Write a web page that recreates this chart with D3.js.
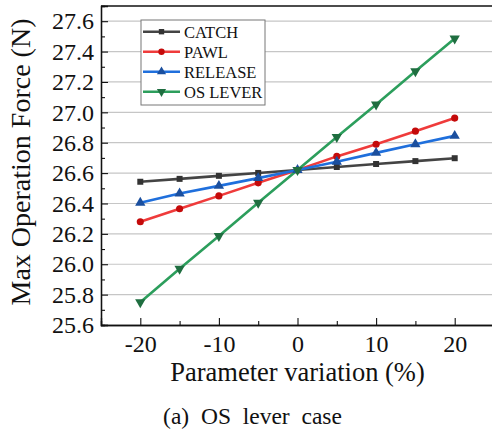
<!DOCTYPE html>
<html>
<head>
<meta charset="utf-8">
<script src="https://cdn.jsdelivr.net/npm/d3@7"></script>
<style>
    body { margin: 0; background: #fff; }
</style>
</head>
<body>
<div id="chart"></div>
<script>
'use strict';

// chart data
const variation = [-20, -15, -10, -5, 0, 5, 10, 15, 20];
const catchForce = [26.543, 26.562, 26.582, 26.601, 26.62, 26.64, 26.66, 26.679, 26.698];
const pawlForce = [26.28, 26.365, 26.45, 26.536, 26.62, 26.71, 26.79, 26.876, 26.962];
const releaseForce = [26.405, 26.466, 26.516, 26.567, 26.62, 26.675, 26.733, 26.79, 26.845];
const osLeverForce = [25.75, 25.97, 26.186, 26.405, 26.62, 26.838, 27.052, 27.27, 27.486];
const seriesNames = ['CATCH', 'PAWL', 'RELEASE', 'OS LEVER'];
const xTicks = [-20, -10, 0, 10, 20];
const yTicks = [25.6, 25.8, 26.0, 26.2, 26.4, 26.6, 26.8, 27.0, 27.2, 27.4, 27.6];

const FONT = 'Liberation Serif';
const W = 492, H = 431;
const margin = {top: 6, right: -2, bottom: 106, left: 101};

const series = [
    {name: seriesNames[0], values: catchForce, line: '#444444', mark: '#333333', shape: d3.symbolSquare, size: 36},
    {name: seriesNames[1], values: pawlForce, line: '#ef3b3b', mark: '#c40a0a', shape: d3.symbolCircle, size: 40},
    {name: seriesNames[2], values: releaseForce, line: '#1f6fdc', mark: '#1b4f9e', shape: d3.symbolTriangle, size: 46},
    {name: seriesNames[3], values: osLeverForce, line: '#2c9e5c', mark: '#1f6e40', shape: d3.symbolTriangle, size: 46, flip: true}
];

const svg = d3.select('#chart')
    .append('svg')
    .attr('width', W)
    .attr('height', H);

const x = d3.scaleLinear().domain([-25, 25]).range([margin.left, W - margin.right]);
const y = d3.scaleLinear().domain([25.6, 27.7]).range([H - margin.bottom, margin.top]);

//gridlines
svg.append('g')
    .selectAll('line')
    .data(yTicks.slice(1))
    .enter()
    .append('line')
    .attr('x1', x(-25))
    .attr('x2', x(25))
    .attr('y1', d => y(d))
    .attr('y2', d => y(d))
    .attr('stroke', '#c6c6c6')
    .attr('stroke-width', 1.2);

//top frame line
svg.append('line')
    .attr('x1', x(-25)).attr('x2', x(25))
    .attr('y1', y(27.7)).attr('y2', y(27.7))
    .attr('stroke', '#111').attr('stroke-width', 1.3);

//axes, ticks point inward
const yMinor = d3.axisLeft(y).tickValues(d3.range(25.7, 27.7, 0.2)).tickSize(-4).tickFormat('');
const yAxis = d3.axisLeft(y).tickValues(yTicks).tickSize(-7).tickPadding(7).tickFormat(d => d.toFixed(1));
const xMinor = d3.axisBottom(x).tickValues([-25, -15, -5, 5, 15, 25]).tickSize(-4).tickFormat('');
const xAxis = d3.axisBottom(x).tickValues(xTicks).tickSize(-7).tickPadding(10).tickFormat(d => String(d));

function styleAxis(g) {
    g.attr('font-family', FONT).attr('font-size', 24);
    g.select('.domain').attr('stroke', '#111').attr('stroke-width', 1.3);
    g.selectAll('.tick line').attr('stroke', '#111').attr('stroke-width', 1.1);
    g.selectAll('text').attr('fill', '#111');
}

svg.append('g').attr('transform', `translate(${margin.left},0)`).call(yMinor).call(styleAxis);
svg.append('g').attr('transform', `translate(${margin.left},0)`).call(yAxis).call(styleAxis);
svg.append('g').attr('transform', `translate(0,${H - margin.bottom})`).call(xMinor).call(styleAxis);
svg.append('g').attr('transform', `translate(0,${H - margin.bottom})`).call(xAxis).call(styleAxis);

//series lines, then markers on top
const line = d3.line()
    .x((d, i) => x(variation[i]))
    .y(d => y(d));

series.forEach(s => {
    svg.append('path')
        .datum(s.values)
        .attr('d', line)
        .attr('fill', 'none')
        .attr('stroke', s.line)
        .attr('stroke-width', 2.6);
});

series.forEach(s => {
    const sym = d3.symbol().type(s.shape).size(s.size);
    svg.append('g')
        .selectAll('path')
        .data(s.values)
        .enter()
        .append('path')
        .attr('d', sym)
        .attr('fill', s.mark)
        .attr('transform', (d, i) => `translate(${x(variation[i])},${y(d)})${s.flip ? ' rotate(180)' : ''}`);
});

//legend
const legend = svg.append('g').attr('transform', 'translate(141,20)');
legend.append('rect')
    .attr('width', 124)
    .attr('height', 85)
    .attr('fill', '#fff')
    .attr('stroke', '#777')
    .attr('stroke-width', 1);

series.forEach((s, i) => {
    const row = legend.append('g').attr('transform', `translate(0,${11.7 + i * 20})`);
    row.append('line')
        .attr('x1', 2).attr('x2', 39)
        .attr('stroke', s.line).attr('stroke-width', 2.6);
    row.append('path')
        .attr('d', d3.symbol().type(s.shape).size(s.size * 0.8))
        .attr('fill', s.mark)
        .attr('transform', `translate(20.5,0)${s.flip ? ' rotate(180)' : ''}`);
    row.append('text')
        .attr('x', 43)
        .attr('y', 6)
        .attr('font-family', FONT)
        .attr('font-size', 16.5)
        .attr('fill', '#111')
        .text(s.name);
});

//axis titles and caption
svg.append('text')
    .attr('transform', 'translate(30,162) rotate(-90)')
    .attr('text-anchor', 'middle')
    .attr('font-family', FONT)
    .attr('font-size', 28)
    .attr('fill', '#111')
    .text('Max Operation Force (N)');

svg.append('text')
    .attr('x', x(0))
    .attr('y', 381)
    .attr('text-anchor', 'middle')
    .attr('font-family', FONT)
    .attr('font-size', 26.5)
    .attr('fill', '#111')
    .text('Parameter variation (%)');

svg.append('text')
    .attr('x', 252.5)
    .attr('y', 424)
    .attr('text-anchor', 'middle')
    .attr('font-family', FONT)
    .attr('font-size', 23.5)
    .attr('fill', '#111')
    .style('white-space', 'pre')
    .text('(a)  OS  lever  case');
</script>
</body>
</html>
